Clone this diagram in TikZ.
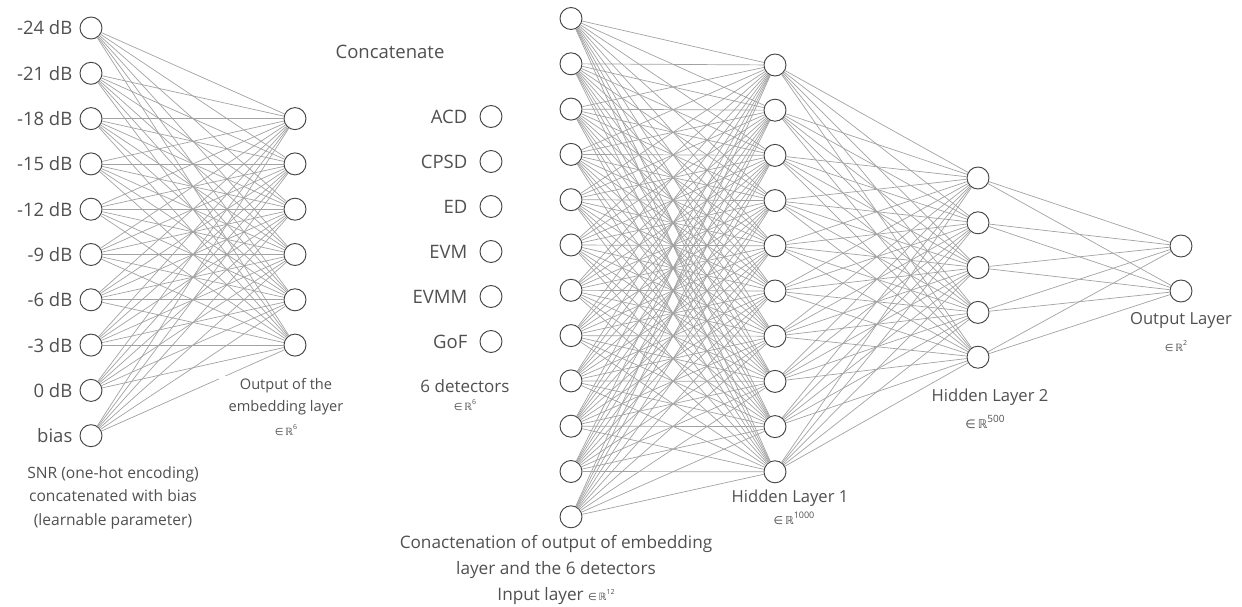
\documentclass[tikz,border=0pt]{standalone}
\usepackage{fontspec}
\setmainfont{Open Sans}
\newfontfamily\symf{DejaVu Sans}
\definecolor{txt}{HTML}{505050}
\definecolor{edgec}{HTML}{A2A2A2}
\definecolor{ring}{HTML}{444444}
\newcommand{\memb}[3][10]{{\fontsize{#1}{14}\selectfont{\symf ∈\,ℝ}\raisebox{0.55em}{\fontsize{#2}{8}\selectfont #3}}}
\begin{document}
\begin{tikzpicture}[x=1pt,y=-1pt,
  neuron/.style={circle,draw=ring,line width=0.95pt,minimum size=22pt,inner sep=0pt,fill=white},
  conn/.style={draw=edgec,line width=0.7pt},
  biglbl/.style={text=txt,font=\fontsize{18.5}{22}\selectfont,inner sep=0pt},
  midlbl/.style={text=txt,font=\fontsize{16.6}{26}\selectfont,inner sep=0pt},
  smllbl/.style={text=txt,font=\fontsize{15.6}{23.5}\selectfont,inner sep=0pt,align=center},
  tinylbl/.style={text=txt,inner sep=0pt}]
\useasboundingbox (0,0) rectangle (1242,607);

% SNR one-hot layer
\foreach \i/\t in {0/-24 dB,1/-21 dB,2/-18 dB,3/-15 dB,4/-12 dB,5/-9 dB,6/-6 dB,7/-3 dB,8/0 dB,9/bias}{
  \node[neuron] (s\i) at (91,{28+45.3*\i}) {};
  \node[biglbl,anchor=east] (sl\i) at ([xshift=-7pt]s\i.west) {\t};
}
% embedding output
\foreach \j in {0,...,5}{
  \node[neuron] (e\j) at (295,{118.6+45.3*\j}) {};
}
% detectors
\foreach \k/\t in {0/ACD,1/CPSD,2/ED,3/EVM,4/EVMM,5/GoF}{
  \node[neuron] (d\k) at (491,{116.5+45*\k}) {};
  \node[biglbl,anchor=east] (dl\k) at ([xshift=-12pt]d\k.west) {\t};
}
% input layer
\foreach \i in {0,...,11}{
  \node[neuron] (x\i) at (571,{18.5+45.3*\i}) {};
}
% hidden 1
\foreach \i in {0,...,9}{
  \node[neuron] (h\i) at (775,{65+45.2*\i}) {};
}
% hidden 2
\foreach \i in {0,...,4}{
  \node[neuron] (g\i) at (978,{178+44.8*\i}) {};
}
% output
\foreach \i in {0,1}{
  \node[neuron] (o\i) at (1181,{246+45*\i}) {};
}

% connections
\foreach \i in {0,...,9}{\foreach \j in {0,...,5}{\draw[conn] (s\i) -- (e\j);}}
\foreach \i in {0,...,11}{\foreach \j in {0,...,9}{\draw[conn] (x\i) -- (h\j);}}
\foreach \i in {0,...,9}{\foreach \j in {0,...,4}{\draw[conn] (h\i) -- (g\j);}}
\foreach \i in {0,...,4}{\foreach \j in {0,1}{\draw[conn] (g\i) -- (o\j);}}

% labels
\node[biglbl] (concat) at (390,52) {Concatenate};
\node[smllbl,anchor=north] (snr) at (113,466) {SNR (one-hot encoding)\\concatenated with bias\\(learnable parameter)};
\node[text=txt,font=\fontsize{14.6}{22}\selectfont,align=center,fill=white,inner xsep=10pt,inner ysep=2pt,anchor=north] (emb) at (286,376) {Output of the\\embedding layer};
\node[tinylbl] (embR) at (286,430) {\memb{7}{6}};
\node[text=txt,font=\fontsize{17}{20}\selectfont,inner sep=0pt] (det) at (465,386) {6 detectors};
\node[tinylbl] (detR) at (465,405) {\memb{7}{6}};
\node[text=txt,font=\fontsize{17.2}{26}\selectfont,align=center,inner sep=0pt,anchor=north] (inp) at (556,535) {Conactenation of output of embedding\\layer and the 6 detectors\\Input layer \memb{7}{12}};
\node[tinylbl] (hl1) at (790,498) [midlbl] {Hidden Layer 1};
\node[tinylbl] (hl1R) at (794,518) {\memb[11]{9}{1000}};
\node[midlbl] (hl2) at (990,397) {Hidden Layer 2};
\node[tinylbl] (hl2R) at (985,422) {\memb[12]{10}{500}};
\node[midlbl] (outl) at (1181,320) {Output Layer};
\node[tinylbl] (outR) at (1176,346) {\memb{7}{2}};
\end{tikzpicture}
\end{document}
